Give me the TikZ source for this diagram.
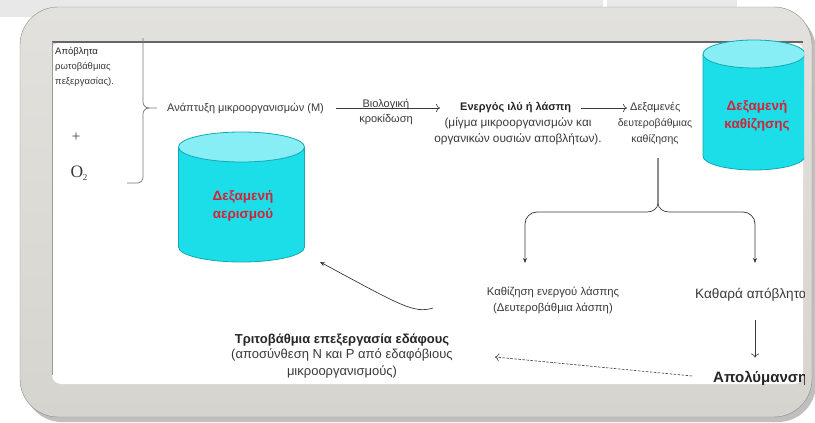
\documentclass[tikz,border=0pt]{standalone}
\usepackage{fontspec}
\setmainfont{Liberation Sans}
\newfontfamily\romanfont{Liberation Serif}
\usetikzlibrary{arrows.meta,positioning,shapes.geometric,calc}

\definecolor{bandgrey}{HTML}{E8E8E8}
\definecolor{framegrey}{HTML}{D6D4CE}
\definecolor{frameline}{HTML}{8C8C88}
\definecolor{tankbody}{HTML}{1CDEE8}
\definecolor{tanktop}{HTML}{86EEF4}
\definecolor{tankline}{HTML}{12A8B4}
\definecolor{tankred}{HTML}{D42236}
\definecolor{inkgrey}{HTML}{3A3A3A}

\begin{document}
\begin{tikzpicture}[x=1pt, y=-1pt,
  txt/.style={text=inkgrey, font=\fontsize{11}{16}\selectfont, inner sep=0pt, align=center},
  head/.style={text=black!85, font=\fontsize{11}{16}\selectfont\bfseries, inner sep=0pt},
  tankside/.style={draw=tankline, line width=0.8pt},
  tanklabel/.style={text=tankred, font=\fontsize{13.5}{17.5}\selectfont\bfseries, align=center, inner sep=0pt},
  arr/.style={-{To[length=4pt,width=8pt]}, inkgrey, line width=0.6pt},
  farr/.style={-{Stealth[length=5pt,width=4pt]}, inkgrey, line width=0.7pt},
  brace/.style={inkgrey!70, line width=0.7pt}
]
\useasboundingbox (0,0) rectangle (815,423);

% Background and frame
\fill[bandgrey] (0,0) rectangle (603,17);
\fill[bandgrey] (607,0) rectangle (737,15);
\fill[black!25, rounded corners=38pt] (24,12) rectangle (816,422);
\shade[rounded corners=38pt, top color=framegrey!70!white, bottom color=framegrey] (20,7) rectangle (812,417);
\draw[frameline, rounded corners=38pt] (20,7) rectangle (812,417);
\fill[white, rounded corners=9pt] (52,42) rectangle (803,384);
\draw[black!60, line width=1.4pt] (52,42) -- (803,42);
\draw[black!40, line width=1pt] (52,42) -- (52,375);

\begin{scope}
\clip (52,36) rectangle (804,384);

% Aeration tank
\fill[tankbody] (178.5,147) -- (178.5,247) arc[start angle=180, end angle=360, x radius=63pt, y radius=15pt] -- (304.5,147) -- cycle;
\draw[tankside] (178.5,147) -- (178.5,247) arc[start angle=180, end angle=360, x radius=63pt, y radius=15pt] -- (304.5,147);
\filldraw[tankside, fill=tanktop] (241.5,147) ellipse[x radius=63pt, y radius=15pt];
\node[tanklabel] (aer) at (243,206) {Δεξαμενή\\αερισμού};

% Settling tank
\fill[tankbody] (703,54) -- (703,156) arc[start angle=180, end angle=360, x radius=51pt, y radius=14pt] -- (805,54) -- cycle;
\draw[tankside] (703,54) -- (703,156) arc[start angle=180, end angle=360, x radius=51pt, y radius=14pt] -- (805,54);
\filldraw[tankside, fill=tanktop] (754,54) ellipse[x radius=51pt, y radius=14pt];
\node[tanklabel] (sett) at (757,116) {Δεξαμενή\\καθίζησης};

% Inputs
\node[txt, anchor=north west, align=left, font=\fontsize{9.5}{15}\selectfont] (waste) at (55,47) {{\color{black!85}Απόβλητα}\\ρωτοβάθμιας\\πεξεργασίας).};
\node[text=inkgrey, font=\romanfont\fontsize{15}{16}\selectfont, inner sep=0pt] (plus) at (76,137) {+};
\node[text=inkgrey, font=\romanfont\fontsize{17.5}{18}\selectfont, inner sep=0pt] (oxy) at (79,173) {O\kern-0.5pt\raisebox{-2.5pt}{\fontsize{9}{9}\selectfont 2}};

% Top row
\node[txt, anchor=west] (grow) at (167,108) {Ανάπτυξη μικροοργανισμών (Μ)};
\draw[brace] (127,183) -- (138,183) to[out=0,in=-90] (143,178) -- (143,114) to[out=90,in=180] (149,108) -- ([xshift=-10pt]grow.west);
\draw[brace] (149,108) to[out=180,in=-90] (143,102) -- (143,38);

\node[head, anchor=west] (sludge) at (460,108) {Ενεργός ιλύ ή λάσπη};
\node[txt, font=\fontsize{11.8}{16.5}\selectfont] (sludgemix) at (518,131.5) {(μίγμα μικροοργανισμών και\\οργανικών ουσιών αποβλήτων).};
\draw[arr, shorten <=12pt, shorten >=20pt] (grow.east) -- (grow.east -| sludge.west);
\node[txt, font=\fontsize{11}{15}\selectfont] (flocc) at (386,112) {Βιολογική\\κροκίδωση};

\node[txt, anchor=west] (secset) at (630,107) {Δεξαμενές};
\node[txt, font=\fontsize{10.5}{16.5}\selectfont] (secsetb) at (655,131.5) {δευτεροβάθμιας\\καθίζησης};
\draw[arr, shorten <=10pt, shorten >=3pt] (sludge.east) -- (sludge.east -| secset.west);

% Fork
\coordinate (forktop) at (658,158);
\coordinate (settlein) at (525,263);
\coordinate (cleanin) at (755,263);
\draw[farr] (forktop) -- (658,203) to[out=-90,in=0] (647,212) -- (537,212) to[out=180,in=90] (525,224) -- (settlein);
\draw[farr] (forktop) -- (658,203) to[out=-90,in=180] (669,212) -- (743,212) to[out=0,in=90] (755,224) -- (cleanin);

% Lower row
\node[txt, font=\fontsize{11.3}{16}\selectfont] (settle) at (553,300) {Καθίζηση ενεργού λάσπης\\(Δευτεροβάθμια λάσπη)};
\node[txt, anchor=west, font=\fontsize{13.6}{16}\selectfont] (clean) at (695,295) {Καθαρά απόβλητα};
\node[head, anchor=west, font=\fontsize{15}{16}\selectfont\bfseries] (apol) at (713,378) {Απολύμανση};
\draw[arr, shorten <=18pt, shorten >=13pt] (clean.south -| cleanin) -- (apol.north -| cleanin);

\coordinate (settleout) at (433,308);
\coordinate (aerin) at (320,262);
\draw[farr] (settleout) .. controls (414,314) and (400,305) .. (aerin);

\node[head, font=\fontsize{13}{16}\selectfont\bfseries] (tert) at (342,340) {Τριτοβάθμια επεξεργασία εδάφους};
\node[txt, font=\fontsize{13}{16.5}\selectfont] (tertbody) at (342,363.5) {(αποσύνθεση N και P από εδαφόβιους\\μικροοργανισμούς)};
\coordinate (soilin) at (495,357);
\draw[arr, dash pattern=on 2.5pt off 1.5pt, shorten <=21pt] (apol.west) -- (soilin);
\end{scope}

\end{tikzpicture}
\end{document}
